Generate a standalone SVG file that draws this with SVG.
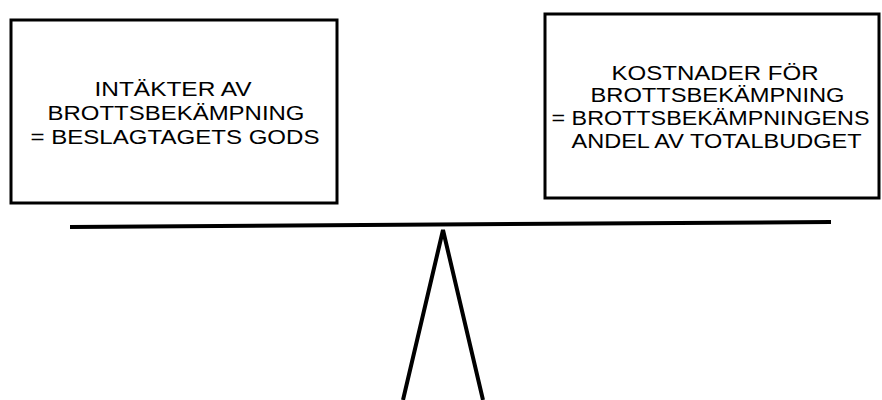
<svg xmlns="http://www.w3.org/2000/svg" width="882" height="400" viewBox="0 0 882 400">
<style>
.box{fill:#fff;stroke:#000;stroke-width:3}
.t{font-family:"Liberation Sans",Arial,sans-serif;font-size:19.5px;fill:#000}
.ln{stroke:#000;stroke-width:4;fill:none}
</style>
<rect width="882" height="400" fill="#fff"/>
<g id="income">
<rect class="box" x="11" y="20" width="326" height="183"/>
<text class="t" x="94.5" y="96" textLength="157" lengthAdjust="spacingAndGlyphs">INTÄKTER AV</text>
<text class="t" x="47.5" y="120" textLength="257" lengthAdjust="spacingAndGlyphs">BROTTSBEKÄMPNING</text>
<text class="t" x="30.5" y="143.5" textLength="289" lengthAdjust="spacingAndGlyphs">= BESLAGTAGETS GODS</text>
</g>
<g id="costs">
<rect class="box" x="545" y="14" width="334" height="184"/>
<text class="t" x="611.5" y="80" textLength="207" lengthAdjust="spacingAndGlyphs">KOSTNADER FÖR</text>
<text class="t" x="590.5" y="102" textLength="254" lengthAdjust="spacingAndGlyphs">BROTTSBEKÄMPNING</text>
<text class="t" x="551.5" y="125" textLength="318" lengthAdjust="spacingAndGlyphs">= BROTTSBEKÄMPNINGENS</text>
<text class="t" x="571.5" y="148" textLength="290" lengthAdjust="spacingAndGlyphs">ANDEL AV TOTALBUDGET</text>
</g>
<g id="connectors">
<line class="ln" x1="70" y1="227" x2="831" y2="222" stroke-width="3"/>
<polyline class="ln" points="403,400 443,230 483,400"/>
</g>
</svg>
